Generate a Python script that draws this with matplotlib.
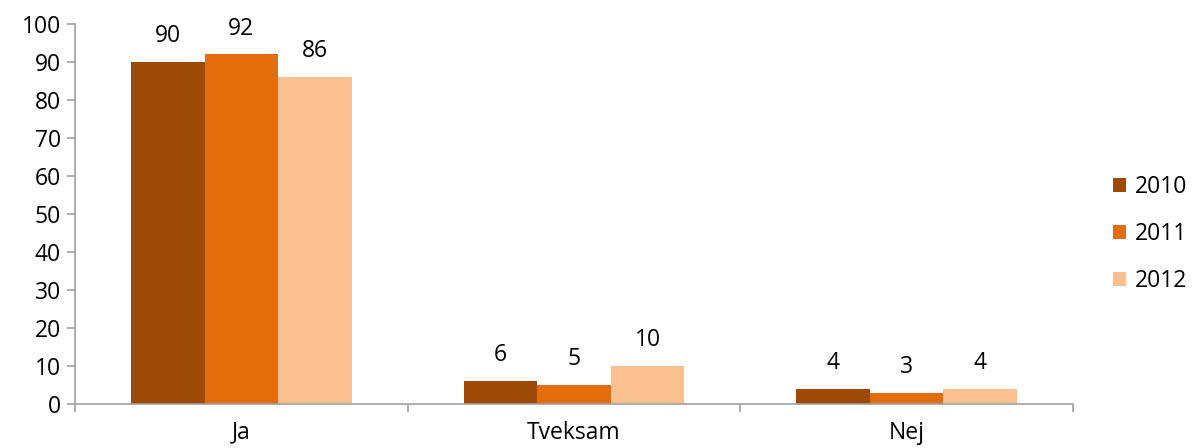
import matplotlib.pyplot as plt
import numpy as np
from matplotlib.ticker import FixedLocator, NullFormatter

plt.rcParams['font.family'] = ['Open Sans', 'DejaVu Sans']

categories = ['Ja', 'Tveksam', 'Nej']
years = ['2010', '2011', '2012']
values = {
    '2010': [90, 6, 4],
    '2011': [92, 5, 3],
    '2012': [86, 10, 4],
}
colors = ['#9C4A06', '#E46C0A', '#FAC090']
fs = 16.5

fig = plt.figure(figsize=(11.92, 4.48), dpi=100)
ax = fig.add_axes([75 / 1192, 44 / 448, 998 / 1192, 380 / 448])

x = np.arange(len(categories))
width = 0.221
for i, (year, col) in enumerate(zip(years, colors)):
    pos = x + (i - 1) * width
    bars = ax.bar(pos, values[year], width, color=col, label=year)
    for b, v in zip(bars, values[year]):
        ax.annotate(str(v), (b.get_x() + b.get_width() / 2, v),
                    xytext=(0, 10), textcoords='offset points',
                    ha='center', va='bottom', fontsize=fs)

ax.set_xlim(-0.5, len(categories) - 0.5)
ax.set_ylim(0, 100)
ax.set_yticks(range(0, 101, 10))

# category boundaries get the tick marks, centers get the labels
ax.xaxis.set_major_locator(FixedLocator(np.arange(-0.5, len(categories), 1.0)))
ax.xaxis.set_major_formatter(NullFormatter())
ax.xaxis.set_minor_locator(FixedLocator(x))
ax.set_xticklabels(categories, minor=True)
ax.tick_params(axis='x', which='minor', length=0, pad=12, labelsize=fs)
ax.tick_params(axis='x', which='major', length=6, color='#A0A0A0', width=1.2)
ax.tick_params(axis='y', length=6, color='#A0A0A0', width=1.2, labelsize=fs, pad=4)

for s in ['top', 'right']:
    ax.spines[s].set_visible(False)
for s in ['left', 'bottom']:
    ax.spines[s].set_color('#A0A0A0')
    ax.spines[s].set_linewidth(1.2)

fig.legend(loc='center left', bbox_to_anchor=(1092 / 1192, 214 / 448),
           frameon=False, fontsize=fs, handlelength=0.6, handleheight=0.6,
           handletextpad=0.35, labelspacing=1.0)

fig.savefig('out.png', dpi=100)
